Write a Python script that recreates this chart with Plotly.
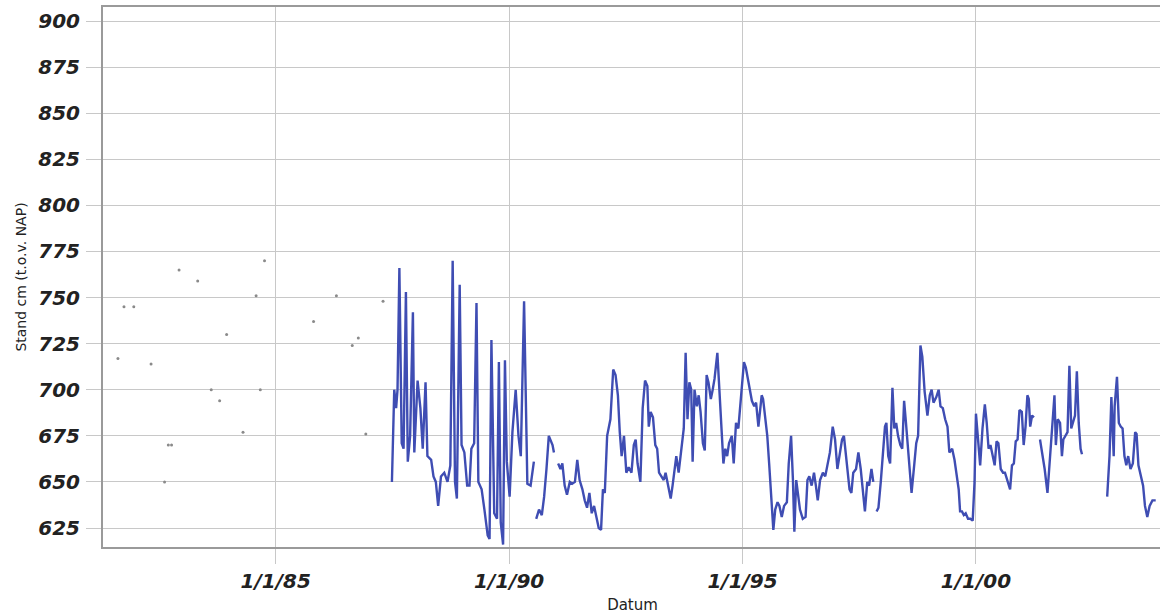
import datetime as dt
import plotly.graph_objects as go

# ---- data (decimal years, cm NAP) ----
scatter_t = [1981.62, 1981.75, 1981.96, 1982.33, 1982.62, 1982.70, 1982.77, 1982.93,
             1983.33, 1983.62, 1983.80, 1983.95, 1984.30, 1984.58, 1984.67, 1984.76,
             1985.81, 1986.30, 1986.64, 1986.77, 1986.93, 1987.30]
scatter_v = [717, 745, 745, 714, 650, 670, 670, 765,
             759, 700, 694, 730, 677, 751, 700, 770,
             737, 751, 724, 728, 676, 748]

seg1_t = [1987.49, 1987.54, 1987.58, 1987.61, 1987.65, 1987.70, 1987.74, 1987.79, 1987.83, 1987.88,
          1987.94, 1987.97, 1988.04, 1988.10, 1988.15, 1988.21, 1988.25, 1988.33, 1988.38, 1988.43,
          1988.48, 1988.54, 1988.61, 1988.68, 1988.74, 1988.79, 1988.84, 1988.88, 1988.94, 1988.98,
          1989.04, 1989.10, 1989.15, 1989.19, 1989.25, 1989.30, 1989.34, 1989.41, 1989.47, 1989.54,
          1989.58, 1989.62, 1989.68, 1989.74, 1989.78, 1989.82, 1989.87, 1989.91, 1989.95, 1990.01,
          1990.07, 1990.14, 1990.20, 1990.25, 1990.32, 1990.39, 1990.46, 1990.53]
seg1_v = [650, 700, 690, 700, 766, 671, 668, 753, 661, 675,
          742, 666, 705, 690, 668, 704, 664, 662, 653, 650,
          637, 653, 655, 650, 659, 770, 650, 641, 757, 670,
          666, 648, 648, 668, 671, 747, 650, 646, 635, 621,
          619, 727, 633, 630, 715, 628, 616, 716, 661, 642,
          677, 700, 675, 664, 748, 649, 648, 661]

seg2_t = [1990.58, 1990.64, 1990.70, 1990.75, 1990.80, 1990.85, 1990.93, 1990.96]
seg2_v = [630, 635, 632, 642, 657, 675, 670, 666]

seg3_t = [1991.05, 1991.10, 1991.14, 1991.19, 1991.24, 1991.30, 1991.35, 1991.41, 1991.46, 1991.51,
          1991.57, 1991.62, 1991.67, 1991.72, 1991.77, 1991.82, 1991.87, 1991.92, 1991.97, 1992.01,
          1992.05, 1992.10, 1992.17, 1992.23, 1992.28, 1992.33, 1992.37, 1992.41, 1992.46, 1992.51,
          1992.56, 1992.62, 1992.67, 1992.71, 1992.75, 1992.81, 1992.86, 1992.91, 1992.96, 1992.99,
          1993.03, 1993.08, 1993.13, 1993.17, 1993.21, 1993.26, 1993.31, 1993.35, 1993.40, 1993.46,
          1993.50, 1993.55, 1993.58, 1993.63, 1993.69, 1993.74, 1993.78, 1993.82, 1993.86, 1993.90,
          1993.93, 1993.97, 1994.02, 1994.06, 1994.10, 1994.15, 1994.19, 1994.23, 1994.27, 1994.32,
          1994.36, 1994.40, 1994.46, 1994.50, 1994.54, 1994.59, 1994.63, 1994.67, 1994.71, 1994.77,
          1994.81, 1994.86, 1994.91, 1994.97, 1995.03, 1995.07, 1995.13, 1995.20, 1995.25, 1995.29,
          1995.34, 1995.37, 1995.41, 1995.44, 1995.48, 1995.53, 1995.57, 1995.62, 1995.66, 1995.70,
          1995.75, 1995.79, 1995.84, 1995.89, 1995.95, 1995.99, 1996.04, 1996.08, 1996.11, 1996.15,
          1996.19, 1996.23, 1996.29, 1996.35, 1996.39, 1996.43, 1996.48, 1996.53, 1996.57, 1996.61,
          1996.66, 1996.72, 1996.77, 1996.82, 1996.87, 1996.93, 1996.98, 1997.03, 1997.09, 1997.13,
          1997.17, 1997.23, 1997.29, 1997.33, 1997.37, 1997.43, 1997.48, 1997.53, 1997.57, 1997.62,
          1997.67, 1997.71, 1997.76, 1997.80]
seg3_v = [660, 657, 660, 648, 643, 650, 649, 650, 662, 651,
          646, 640, 636, 644, 633, 637, 631, 625, 624, 646,
          644, 675, 684, 711, 708, 697, 677, 664, 675, 655,
          658, 655, 670, 673, 660, 650, 690, 705, 702, 680,
          688, 685, 670, 668, 655, 653, 651, 655, 648, 641,
          648, 660, 664, 655, 668, 679, 720, 684, 704, 700,
          661, 700, 691, 697, 688, 671, 667, 708, 704, 695,
          700, 706, 720, 700, 680, 660, 668, 664, 671, 675,
          660, 682, 679, 697, 715, 712, 704, 694, 691, 693,
          680, 686, 697, 695, 686, 675, 660, 642, 624, 635,
          639, 637, 631, 637, 639, 660, 675, 651, 623, 651,
          642, 635, 630, 631, 651, 653, 648, 655, 648, 640,
          651, 655, 653, 659, 666, 680, 673, 657, 666, 673,
          675, 662, 646, 644, 655, 657, 666, 657, 646, 634,
          650, 648, 657, 650]

seg4_t = [1997.87, 1997.91, 1997.96, 1998.01, 1998.05, 1998.08, 1998.12, 1998.16, 1998.21, 1998.25,
          1998.29, 1998.33, 1998.38, 1998.42, 1998.46, 1998.50, 1998.55, 1998.62, 1998.68, 1998.72,
          1998.76, 1998.81, 1998.85, 1998.90, 1998.96, 1999.01, 1999.05, 1999.09, 1999.15, 1999.20,
          1999.24, 1999.29, 1999.34, 1999.39, 1999.43, 1999.49, 1999.54, 1999.58, 1999.63, 1999.66,
          1999.70, 1999.74, 1999.78, 1999.83, 1999.88, 1999.93, 1999.97, 2000.00, 2000.04, 2000.09,
          2000.14, 2000.19, 2000.23, 2000.27, 2000.31, 2000.36, 2000.40, 2000.44, 2000.48, 2000.53,
          2000.58, 2000.62, 2000.67, 2000.73, 2000.77, 2000.81, 2000.85, 2000.89, 2000.93, 2000.98,
          2001.02, 2001.06, 2001.10, 2001.13, 2001.16, 2001.20, 2001.24]
seg4_v = [634, 636, 650, 670, 680, 682, 664, 660, 701, 679,
          682, 675, 670, 668, 694, 682, 668, 644, 660, 671,
          675, 724, 718, 699, 686, 697, 700, 693, 696, 700,
          691, 690, 684, 680, 666, 668, 662, 655, 646, 634,
          634, 632, 633, 630, 630, 629, 650, 687, 675, 659,
          679, 692, 682, 668, 670, 664, 659, 672, 671, 657,
          655, 655, 651, 646, 659, 660, 672, 673, 689, 688,
          670, 680, 697, 695, 680, 686, 685]

seg5_t = [2001.37, 2001.43, 2001.47, 2001.53, 2001.57, 2001.63, 2001.68, 2001.71, 2001.75, 2001.80,
          2001.84, 2001.87, 2001.91, 2001.96, 2002.00, 2002.04, 2002.12, 2002.16, 2002.20, 2002.24,
          2002.27]
seg5_v = [673, 664, 657, 644, 657, 680, 697, 670, 684, 682,
          664, 673, 675, 677, 713, 679, 686, 710, 682, 668,
          665]

seg6_t = [2002.81, 2002.86, 2002.90, 2002.95, 2002.97, 2003.02, 2003.06, 2003.10, 2003.14, 2003.18,
          2003.22, 2003.26, 2003.31, 2003.36, 2003.41, 2003.44, 2003.48, 2003.53, 2003.58, 2003.62,
          2003.67, 2003.72, 2003.78, 2003.85]
seg6_v = [642, 664, 696, 664, 691, 707, 682, 680, 679, 664,
          659, 664, 657, 660, 677, 676, 659, 653, 648, 637,
          631, 637, 640, 640]

tick_years = [1985, 1990, 1995, 2000]
tick_labels = ["1/1/85", "1/1/90", "1/1/95", "1/1/00"]
y_ticks = [625, 650, 675, 700, 725, 750, 775, 800, 825, 850, 875, 900]


def to_date(y):
    if y is None:
        return None
    yr = int(y)
    start = dt.datetime(yr, 1, 1)
    end = dt.datetime(yr + 1, 1, 1)
    return start + (end - start) * (y - yr)


segments = [(seg1_t, seg1_v), (seg2_t, seg2_v), (seg3_t, seg3_v),
            (seg4_t, seg4_v), (seg5_t, seg5_v), (seg6_t, seg6_v)]
line_x, line_y = [], []
for ts, vs in segments:
    line_x += [to_date(t) for t in ts] + [None]
    line_y += list(vs) + [None]

fig = go.Figure()
fig.add_trace(go.Scatter(
    x=[to_date(t) for t in scatter_t], y=scatter_v, mode="markers",
    marker=dict(size=3, color="#8a8a8a"), showlegend=False, hoverinfo="x+y"))
fig.add_trace(go.Scatter(
    x=line_x, y=line_y, mode="lines", connectgaps=False,
    line=dict(color="#3f4db3", width=2.4), showlegend=False))

grid = "#c8c8c8"
tickfont = dict(family="DejaVu Sans", size=20, color="#222222", weight="bold", style="italic")
# figure is a little wider than the window so the right-hand frame falls just outside the view
fig.update_layout(
    width=1164, height=614,
    margin=dict(l=103, r=0, t=7, b=67),
    paper_bgcolor="white", plot_bgcolor="white",
)
fig.update_xaxes(
    type="date",
    range=[to_date(1981.30), to_date(2003.985)],
    tickvals=[to_date(y) for y in tick_years], ticktext=tick_labels,
    tickfont=tickfont,
    showgrid=True, gridcolor=grid, gridwidth=1,
    ticks="outside", ticklen=15, tickcolor=grid,
    ticklabelstandoff=0,
    showline=True, linecolor="#9a9a9a", linewidth=2, mirror=True,
    zeroline=False,
    title=dict(text="Datum", font=dict(family="DejaVu Sans", size=15, color="#222"), standoff=8),
)
fig.update_yaxes(
    range=[614.7, 907.6],
    tickvals=y_ticks,
    tickfont=tickfont,
    showgrid=True, gridcolor=grid, gridwidth=1,
    ticks="outside", ticklen=15, tickcolor=grid,
    ticklabelstandoff=2,
    showline=True, linecolor="#9a9a9a", linewidth=2, mirror=True,
    zeroline=False,
    title=dict(text="Stand cm (t.o.v. NAP)", font=dict(family="DejaVu Sans", size=14, color="#222"), standoff=8),
)

fig.write_html(
    "out.html",
    config={"displayModeBar": False},
    post_script="document.body.style.margin='0';document.body.style.overflow='hidden';",
)
